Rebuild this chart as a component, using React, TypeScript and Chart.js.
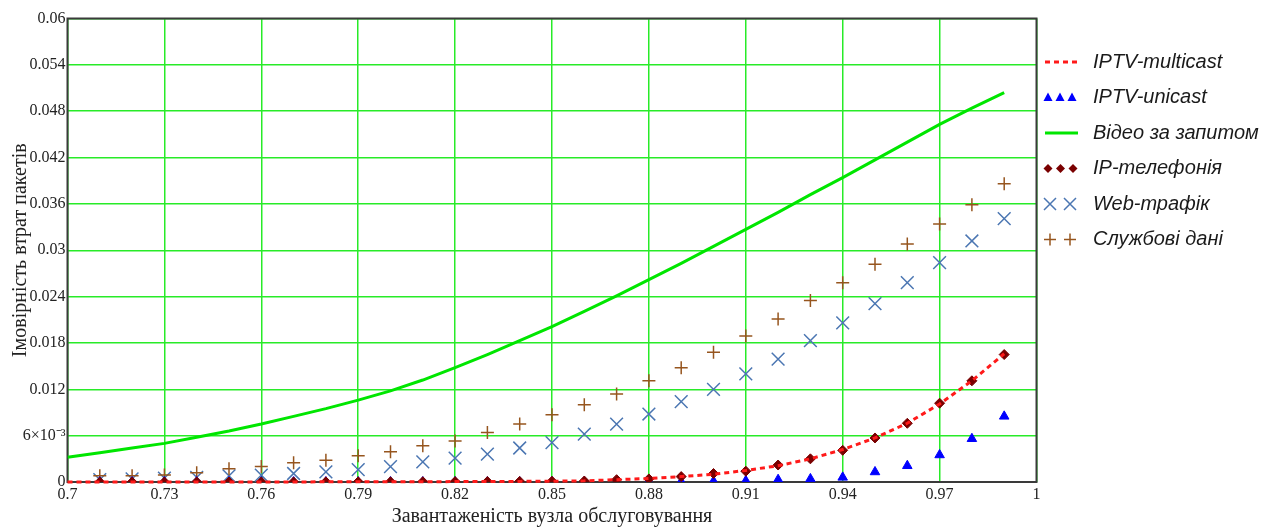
import React, { useEffect, useRef } from 'react';
import { Chart, registerables } from 'chart.js';

Chart.register(...registerables);

// Load values (x) for the marker series
const loadX = [
  0.71, 0.72, 0.73, 0.74, 0.75, 0.76, 0.77, 0.78, 0.79, 0.8,
  0.81, 0.82, 0.83, 0.84, 0.85, 0.86, 0.87, 0.88, 0.89, 0.9,
  0.91, 0.92, 0.93, 0.94, 0.95, 0.96, 0.97, 0.98, 0.99,
];
// Load values (x) for the line series
const lineX = [
  0.7, 0.71, 0.72, 0.73, 0.74, 0.75, 0.76, 0.77, 0.78, 0.79, 0.8,
  0.81, 0.82, 0.83, 0.84, 0.85, 0.86, 0.87, 0.88, 0.89, 0.9,
  0.91, 0.92, 0.93, 0.94, 0.95, 0.96, 0.97, 0.98, 0.99,
];

const multicastY = [
  0, 0, 0, 0, 0, 0, 0.00001, 0.00001, 0.00002, 0.00002, 0.00003,
  0.00004, 0.00005, 0.00006, 0.00008, 0.0001, 0.00015, 0.0003, 0.00045, 0.0007, 0.001,
  0.0015, 0.0021, 0.003, 0.0042, 0.0057, 0.0076, 0.0101, 0.0131, 0.0166,
];
const videoY = [
  0.0032, 0.0038, 0.0044, 0.005, 0.0058, 0.0066, 0.0075, 0.0085, 0.0095, 0.0106, 0.0118,
  0.0132, 0.0148, 0.0165, 0.0183, 0.0201, 0.0221, 0.0241, 0.0262, 0.0283, 0.0305,
  0.0327, 0.0349, 0.0372, 0.0394, 0.0417, 0.044, 0.0463, 0.0484, 0.0504,
];
const unicastY = [
  0, 0, 0, 0, 0, 0, 0, 0, 0, 0,
  0, 0, 0, 0, 0, 0, 0, 0, 0.00005, 0.0001,
  0.00015, 0.0003, 0.0004, 0.0006, 0.0013, 0.0021, 0.0035, 0.0056, 0.0085,
];
const telephonyY = [
  0, 0, 0, 0, 0, 0.00001, 0.00001, 0.00002, 0.00002, 0.00003,
  0.00004, 0.00005, 0.00006, 0.00008, 0.0001, 0.00013, 0.0003, 0.0004, 0.0007, 0.0011,
  0.0014, 0.0022, 0.003, 0.0041, 0.0057, 0.0076, 0.0102, 0.0131, 0.0165,
];
const webY = [
  0.0003, 0.0004, 0.0005, 0.0006, 0.0008, 0.0009, 0.0011, 0.0013, 0.0016, 0.002,
  0.0026, 0.0031, 0.0036, 0.0044, 0.0051, 0.0062, 0.0075, 0.0088, 0.0104, 0.012,
  0.014, 0.0159, 0.0183, 0.0206, 0.0231, 0.0258, 0.0284, 0.0312, 0.0341,
];
const serviceY = [
  0.0008, 0.0008, 0.0009, 0.0012, 0.0017, 0.002, 0.0025, 0.0028, 0.0034, 0.0039,
  0.0047, 0.0053, 0.0064, 0.0075, 0.0087, 0.01, 0.0114, 0.0131, 0.0148, 0.0168,
  0.0189, 0.0211, 0.0235, 0.0258, 0.0282, 0.0308, 0.0334, 0.0359, 0.0386,
];

const seriesNames = [
  'IPTV-multicast',
  'IPTV-unicast',
  'Відео за запитом',
  'IP-телефонія',
  'Web-трафік',
  'Службові дані',
];

const xTitle = 'Завантаженість вузла обслуговування';
const yTitle = 'Імовірність втрат пакетів';

const RED = '#ff1a1a';
const BLUE = '#0000ff';
const GREEN = 'rgb(0,230,0)';
const GRID = 'rgb(40,235,40)';
const DARKRED = '#7a0000';
const STEEL = 'rgb(75,118,178)';
const BROWN = 'rgb(150,85,30)';

const pts = (xs: number[], ys: number[]) => xs.map((x, i) => ({ x, y: ys[i] }));

const framePlugin = {
  id: 'frame',
  beforeDatasetsDraw(chart: any) {
    const { ctx, chartArea: a } = chart;
    ctx.save();
    ctx.strokeStyle = '#3a3a3a';
    ctx.lineWidth = 2;
    ctx.strokeRect(a.left, a.top, a.right - a.left, a.bottom - a.top);
    ctx.restore();
  },
};

const legendPlugin = {
  id: 'sideLegend',
  afterDraw(chart: any) {
    const { ctx } = chart;
    const x0 = 1045;
    const textX = 1093;
    ctx.save();
    seriesNames.forEach((name, i) => {
      const y = 62 + i * 35.5;
      ctx.save();
      if (i === 0) {
        ctx.strokeStyle = RED;
        ctx.lineWidth = 3;
        ctx.setLineDash([5, 4]);
        ctx.beginPath();
        ctx.moveTo(x0, y);
        ctx.lineTo(x0 + 33, y);
        ctx.stroke();
      } else if (i === 1) {
        ctx.fillStyle = BLUE;
        [3, 15, 27].forEach((dx) => {
          const cx = x0 + dx;
          ctx.beginPath();
          ctx.moveTo(cx, y - 5);
          ctx.lineTo(cx + 4.5, y + 3.5);
          ctx.lineTo(cx - 4.5, y + 3.5);
          ctx.closePath();
          ctx.fill();
        });
      } else if (i === 2) {
        ctx.strokeStyle = GREEN;
        ctx.lineWidth = 3;
        ctx.beginPath();
        ctx.moveTo(x0, y);
        ctx.lineTo(x0 + 33, y);
        ctx.stroke();
      } else if (i === 3) {
        ctx.fillStyle = DARKRED;
        [3, 15.5, 28].forEach((dx) => {
          const cx = x0 + dx;
          ctx.beginPath();
          ctx.moveTo(cx, y - 4.5);
          ctx.lineTo(cx + 4.5, y);
          ctx.lineTo(cx, y + 4.5);
          ctx.lineTo(cx - 4.5, y);
          ctx.closePath();
          ctx.fill();
        });
      } else if (i === 4) {
        ctx.strokeStyle = STEEL;
        ctx.lineWidth = 1.5;
        [5, 25].forEach((dx) => {
          const cx = x0 + dx;
          ctx.beginPath();
          ctx.moveTo(cx - 6, y - 6);
          ctx.lineTo(cx + 6, y + 6);
          ctx.moveTo(cx + 6, y - 6);
          ctx.lineTo(cx - 6, y + 6);
          ctx.stroke();
        });
      } else {
        ctx.strokeStyle = BROWN;
        ctx.lineWidth = 1.5;
        [5, 25].forEach((dx) => {
          const cx = x0 + dx;
          ctx.beginPath();
          ctx.moveTo(cx - 6, y);
          ctx.lineTo(cx + 6, y);
          ctx.moveTo(cx, y - 6);
          ctx.lineTo(cx, y + 6);
          ctx.stroke();
        });
      }
      ctx.restore();
      ctx.fillStyle = '#1a1a1a';
      ctx.font = 'italic 20px "Liberation Sans", Arial, sans-serif';
      ctx.textAlign = 'left';
      ctx.textBaseline = 'middle';
      ctx.fillText(name, textX, y);
    });
    ctx.restore();
  },
};

export default function App() {
  const ref = useRef<HTMLCanvasElement | null>(null);

  useEffect(() => {
    if (!ref.current) return;
    const tickFont = { family: '"Liberation Serif", "Times New Roman", serif', size: 16 };
    const titleFont = { family: '"Liberation Serif", "Times New Roman", serif', size: 20 };
    const chart = new Chart(ref.current, {
      type: 'scatter',
      data: {
        datasets: [
          {
            label: seriesNames[0],
            data: pts(lineX, multicastY),
            showLine: true,
            borderColor: RED,
            borderWidth: 3,
            borderDash: [5, 4],
            pointRadius: 0,
            tension: 0,
            clip: 2,
            order: 0,
          },
          {
            label: seriesNames[1],
            data: pts(loadX, unicastY),
            pointStyle: 'triangle',
            pointRadius: 5.5,
            backgroundColor: BLUE,
            borderColor: BLUE,
            borderWidth: 1,
            clip: 0,
            order: 2,
          },
          {
            label: seriesNames[2],
            data: pts(lineX, videoY),
            showLine: true,
            borderColor: GREEN,
            borderWidth: 3,
            pointRadius: 0,
            tension: 0,
            clip: 0,
            order: 5,
          },
          {
            label: seriesNames[3],
            data: pts(loadX, telephonyY),
            pointStyle: 'rectRot',
            pointRadius: 5,
            backgroundColor: DARKRED,
            borderColor: DARKRED,
            borderWidth: 1,
            clip: 0,
            order: 1,
          },
          {
            label: seriesNames[4],
            data: pts(loadX, webY),
            pointStyle: 'crossRot',
            pointRadius: 9,
            borderColor: STEEL,
            backgroundColor: STEEL,
            borderWidth: 1.5,
            clip: 0,
            order: 4,
          },
          {
            label: seriesNames[5],
            data: pts(loadX, serviceY),
            pointStyle: 'cross',
            pointRadius: 6.5,
            borderColor: BROWN,
            backgroundColor: BROWN,
            borderWidth: 1.5,
            clip: 0,
            order: 3,
          },
        ],
      },
      options: {
        responsive: false,
        animation: false,
        devicePixelRatio: 1,
        layout: { padding: { left: 0, right: 237.5, top: 18.5, bottom: 0 } },
        plugins: {
          legend: { display: false },
          tooltip: { enabled: false },
        },
        scales: {
          x: {
            type: 'linear',
            min: 0.7,
            max: 1,
            ticks: {
              stepSize: 0.03,
              autoSkip: false,
              maxRotation: 0,
              padding: 3,
              color: '#222',
              font: tickFont,
              callback: (v: any) => String(Math.round(Number(v) * 100) / 100),
            },
            grid: { color: GRID, lineWidth: 1.5, drawTicks: false },
            border: { display: false },
            title: {
              display: true,
              text: xTitle,
              color: '#222',
              font: titleFont,
              padding: { top: 0, bottom: -2 },
            },
            afterFit: (s: any) => {
              s.height = 45;
            },
          },
          y: {
            type: 'linear',
            min: 0,
            max: 0.06,
            ticks: {
              stepSize: 0.006,
              autoSkip: false,
              padding: 2,
              color: '#222',
              font: tickFont,
              callback: (v: any) => {
                const r = Math.round(Number(v) * 1000) / 1000;
                if (r === 0.006) return '6×10⁻³';
                return String(r);
              },
            },
            grid: { color: GRID, lineWidth: 1.5, drawTicks: false },
            border: { display: false },
            title: {
              display: true,
              text: yTitle,
              color: '#222',
              font: titleFont,
              padding: { top: 9, bottom: 0 },
            },
            afterFit: (s: any) => {
              s.width = 67.5;
            },
          },
        },
      },
      plugins: [framePlugin, legendPlugin],
    } as any);
    return () => chart.destroy();
  }, []);

  return (
    <div style={{ position: 'fixed', left: 0, top: 0, width: 1274, height: 527, background: '#fff' }}>
      <canvas ref={ref} width={1274} height={527} style={{ display: 'block' }} />
    </div>
  );
}
